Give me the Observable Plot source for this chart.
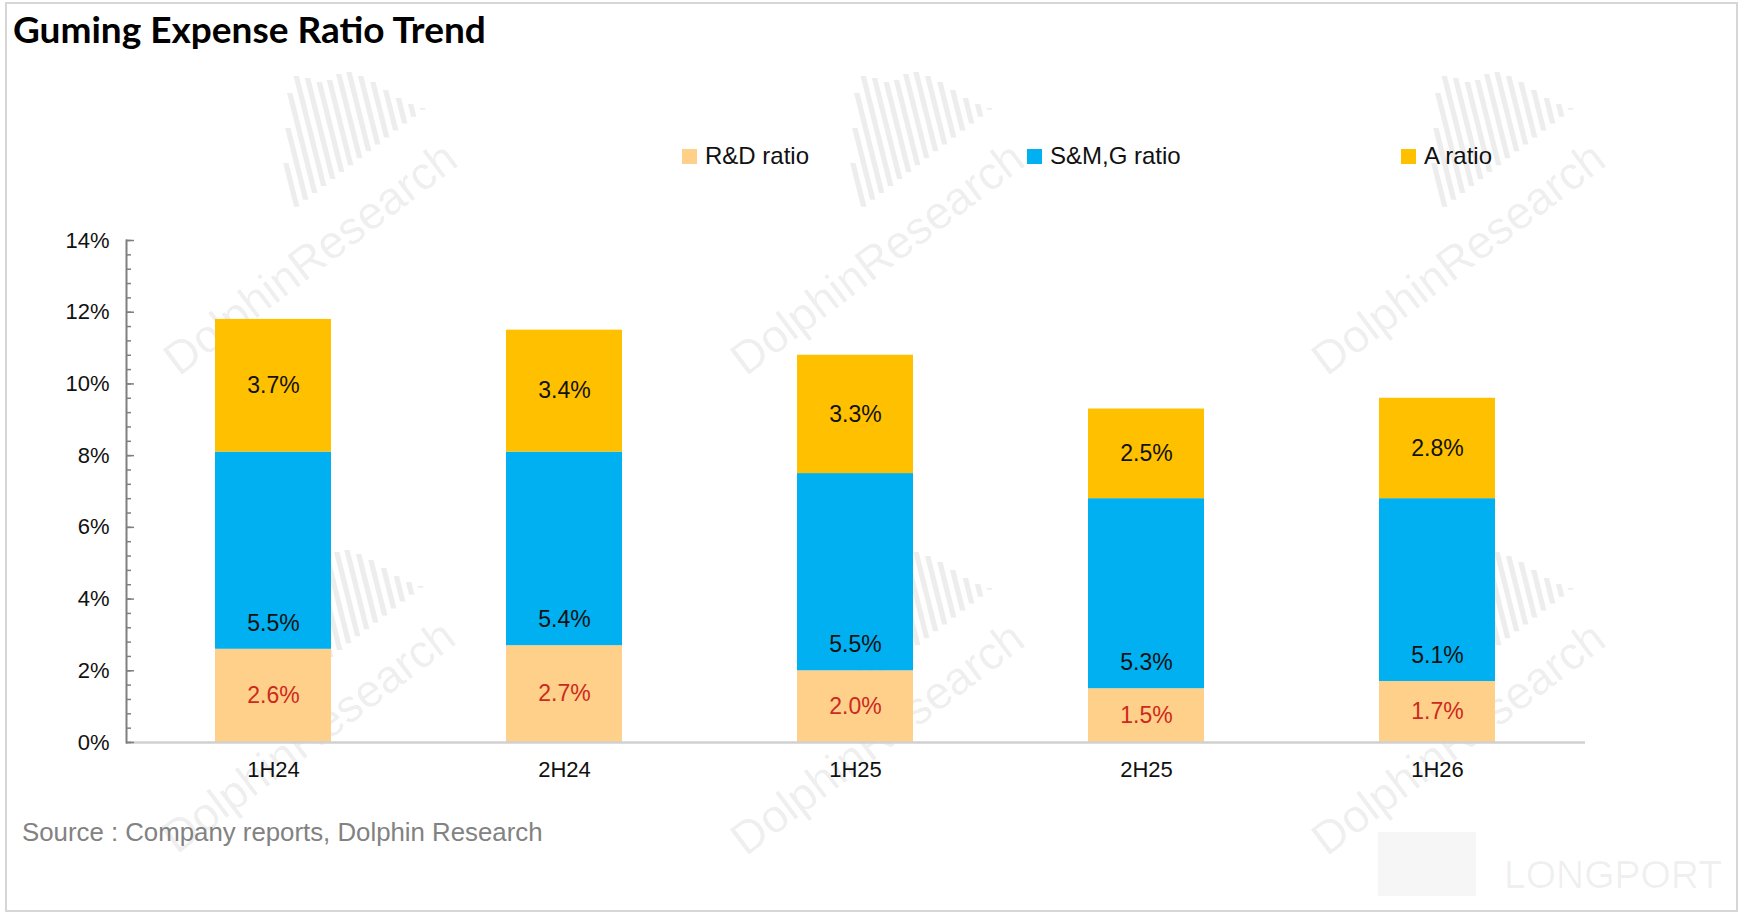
<!DOCTYPE html>
<html>
<head>
<meta charset="utf-8">
<script src="https://cdn.jsdelivr.net/npm/d3@7"></script>
<script src="https://cdn.jsdelivr.net/npm/@observablehq/plot@0.6"></script>
<style>
  body { margin: 0; background: #fff; }
  #wrap { position: relative; width: 1742px; height: 914px; overflow: hidden; background: #fff; font-family: "Liberation Sans", Arial, sans-serif; }
  #frame { position: absolute; left: 5px; top: 2px; width: 1729px; height: 906px; border: 2px solid #d6d6d6; box-sizing: content-box; }
  #title { position: absolute; left: 13px; top: 7px; font: 700 37px Lato, sans-serif; line-height: 44px; color: #000; white-space: nowrap; }
  .sw { position: absolute; width: 15px; height: 15px; top: 149px; }
  .lt { position: absolute; top: 142px; font-size: 24px; line-height: 28px; color: #111; white-space: nowrap; }
  #chart { position: absolute; left: 0; top: 200px; }
  #source { position: absolute; left: 22px; top: 818px; font-size: 25.8px; line-height: 28px; color: #828282; white-space: nowrap; }
  .wm { position: absolute; font-size: 46px; color: rgba(0,0,0,0.075); transform: translate(-50%,-50%) rotate(-37deg); white-space: nowrap; pointer-events: none; }
  .logo { position: absolute; pointer-events: none; }
  .lp { position: absolute; font-size: 39px; line-height: 44px; color: rgba(0,0,0,0.06); white-space: nowrap; }
  .lpbox { position: absolute; left: 1378px; top: 832px; width: 98px; height: 64px; background: rgba(0,0,0,0.035); }
</style>
</head>
<body>
<div id="wrap">
  <div id="frame"></div>
  <div id="marks"></div>
  <div id="title">Guming Expense Ratio Trend</div>
  <div id="legend"></div>
  <div id="chart"></div>
  <div id="source">Source : Company reports, Dolphin Research</div>
</div>
<script>
// ---- data ----
const periods = ["1H24", "2H24", "1H25", "2H25", "1H26"];
const series = ["R&D ratio", "S&M,G ratio", "A ratio"];
const rdRatio = [2.6, 2.7, 2.0, 1.5, 1.7];
const smgRatio = [5.5, 5.4, 5.5, 5.3, 5.1];
const aRatio = [3.7, 3.4, 3.3, 2.5, 2.8];
const yTicks = [0, 2, 4, 6, 8, 10, 12, 14];
const colors = ["#FFD08A", "#00B0F0", "#FFC000"];

// build stacked rows
const values = [rdRatio, smgRatio, aRatio];
const rows = [];
periods.forEach((p, i) => {
  let base = 0;
  series.forEach((s, j) => {
    const v = values[j][i];
    rows.push({period: p, series: s, value: v, base: base, top: base + v, mid: base + v / 2, label: v.toFixed(1) + "%"});
    base += v;
  });
});
const minorTicks = d3.range(0, 14.001, 0.4);

const W = 1742, mL = 126, mR = 157;
const plotW = W - mL - mR;

const chart = Plot.plot({
  width: W,
  height: 602,
  marginTop: 40,
  marginBottom: 60,
  marginLeft: mL,
  marginRight: mR,
  style: {fontFamily: "Liberation Sans, Arial, sans-serif", background: "transparent", overflow: "visible"},
  x: {domain: periods, paddingInner: 0.6, paddingOuter: 0.3, label: null},
  y: {domain: [0, 14], label: null},
  color: {domain: series, range: colors},
  marks: [
    Plot.barY(rows, {x: "period", y1: "base", y2: "top", fill: "series"}),
    Plot.ruleY([0], {stroke: "#d0d0d0", strokeWidth: 2.5}),
    Plot.frame({anchor: "left", stroke: "#7f7f7f", strokeWidth: 2}),
    Plot.tickY(minorTicks, {y: d => d, stroke: "#7f7f7f", strokeWidth: 1.5, insetRight: plotW - 5}),
    Plot.tickY(yTicks, {y: d => d, stroke: "#7f7f7f", strokeWidth: 1.5, insetRight: plotW - 8}),
    Plot.axisY(yTicks, {tickSize: 0, tickPadding: 17, tickFormat: d => d + "%", fontSize: 22, fill: "#111"}),
    Plot.axisX({tickSize: 0, tickPadding: 19, fontSize: 22, fill: "#111"}),
    Plot.text(rows.filter(d => d.series === series[0]), {x: "period", y: "mid", text: "label", fill: "#cc2a1e", fontSize: 23}),
    Plot.text(rows.filter(d => d.series === series[2]), {x: "period", y: "mid", text: "label", fill: "#111", fontSize: 23}),
    Plot.text(rows.filter(d => d.series === series[1]), {x: "period", y: "base", dy: -26, text: "label", fill: "#111", fontSize: 23})
  ]
});
document.getElementById("chart").appendChild(chart);

// legend (HTML)
const legend = document.getElementById("legend");
const legX = [682, 1027, 1401];
series.forEach((s, j) => {
  const sw = document.createElement("div");
  sw.className = "sw"; sw.style.left = legX[j] + "px"; sw.style.background = colors[j];
  const t = document.createElement("div");
  t.className = "lt"; t.style.left = (legX[j] + 23) + "px"; t.textContent = s;
  legend.appendChild(sw); legend.appendChild(t);
});

// watermarks (decoration, behind the bars)
const wmText = "DolphinResearch";
const wmPos = [[310, 258], [877, 258], [1458, 258], [308, 736], [877, 738], [1458, 738]];
const stripeTop = [95, 60, 25, 8, 10, 14, 12, 6, 4, 8, 14, 22, 30, 36, 40];
const marks = document.getElementById("marks");
const svgNS = "http://www.w3.org/2000/svg";
wmPos.forEach(([x, y]) => {
  const svg = document.createElementNS(svgNS, "svg");
  svg.setAttribute("width", 150); svg.setAttribute("height", 155);
  svg.setAttribute("class", "logo");
  svg.style.left = (x - 28) + "px"; svg.style.top = (y - 190) + "px";
  stripeTop.forEach((t, k) => {
    const xb = 12 + k * 9;
    const b = 148 - xb * 0.77;
    if (b <= t) return;
    const lean = (b - t) * 0.25;
    const poly = document.createElementNS(svgNS, "polygon");
    poly.setAttribute("points", `${xb},${b} ${xb + 5.5},${b} ${xb + 5.5 - lean},${t} ${xb - lean},${t}`);
    poly.setAttribute("fill", "rgba(0,0,0,0.07)");
    svg.appendChild(poly);
  });
  marks.appendChild(svg);
  const d = document.createElement("div");
  d.className = "wm"; d.style.left = x + "px"; d.style.top = y + "px"; d.textContent = wmText;
  marks.appendChild(d);
});
const box = document.createElement("div"); box.className = "lpbox"; marks.appendChild(box);
const lp = document.createElement("div");
lp.className = "lp"; lp.style.left = "1504px"; lp.style.top = "853px"; lp.textContent = "LONGPORT";
marks.appendChild(lp);
</script>
</body>
</html>
